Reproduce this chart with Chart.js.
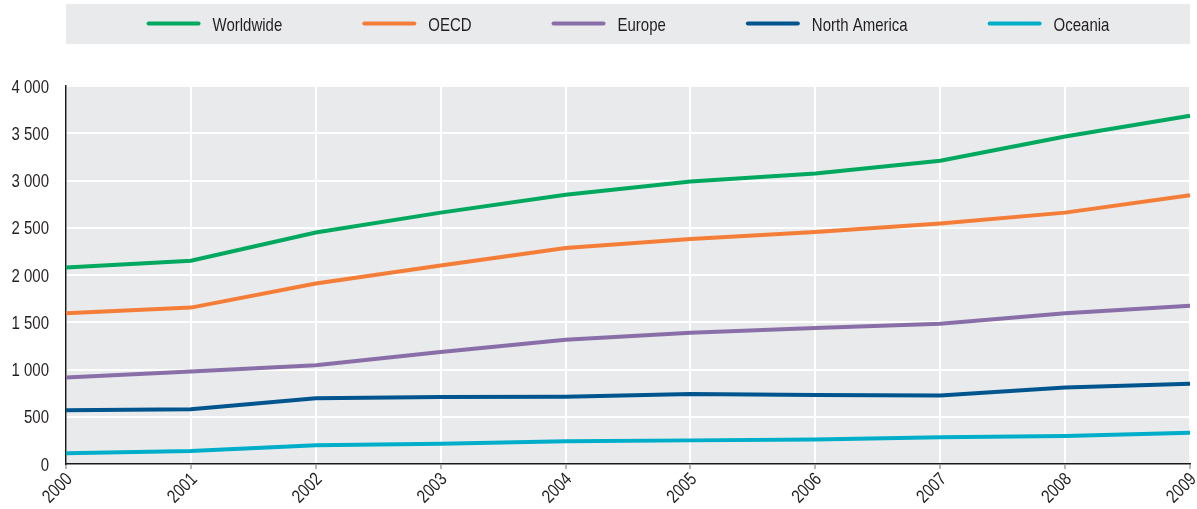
<!DOCTYPE html>
<html>
<head>
<meta charset="utf-8">
<script src="https://cdn.jsdelivr.net/npm/chart.js@4/dist/chart.umd.min.js"></script>
<style>
  html, body { margin: 0; padding: 0; background: #fff; }
  #wrap { width: 1197px; height: 509px; position: relative; }
</style>
</head>
<body>
<div id="wrap"><canvas id="chart"></canvas></div>
<script>
(function () {

    "use strict";

    var years = ['2000', '2001', '2002', '2003', '2004', '2005', '2006', '2007', '2008', '2009'];

    var worldwide    = [2080, 2150, 2450, 2660, 2850, 2990, 3075, 3210, 3465, 3685];
    var oecd         = [1595, 1655, 1910, 2100, 2285, 2380, 2455, 2545, 2660, 2845];
    var europe       = [915, 980, 1045, 1185, 1315, 1390, 1440, 1485, 1595, 1675];
    var northAmerica = [570, 580, 695, 710, 712, 740, 730, 726, 810, 850];
    var oceania      = [113, 138, 198, 215, 240, 250, 260, 282, 296, 331];

    var seriesNames  = ['Worldwide', 'OECD', 'Europe', 'North America', 'Oceania'];
    var seriesColors = ['#00A95F', '#F47D38', '#8A6EA8', '#00558F', '#00AEC9'];

    var yTicks = [0, 500, 1000, 1500, 2000, 2500, 3000, 3500, 4000];

    // no narrow face installed, so squeeze a regular one
    var FONT = '18.5px "Liberation Sans", Arial, sans-serif';
    var SQUEEZE = 0.81;
    var TEXT = '#231F20';
    var CAP_MID = 6.6;

    function fmt(v) {
        return String(v).replace(/\B(?=(\d{3})+(?!\d))/g, ' ');
    }

    function narrowText(ctx, text, x, y, align, angle) {
        ctx.save();
        ctx.translate(x, y);
        if (angle) ctx.rotate(angle);
        ctx.scale(SQUEEZE, 1);
        ctx.font = FONT;
        ctx.fillStyle = TEXT;
        ctx.textAlign = align;
        ctx.textBaseline = 'alphabetic';
        ctx.fillText(text, 0, CAP_MID);
        ctx.restore();
    }

    // grey plot background
    var plotBg = {
        id: 'plotBg',
        beforeDraw: function (chart) {
            var a = chart.chartArea, ctx = chart.ctx;
            ctx.save();
            ctx.fillStyle = '#E9EAEC';
            ctx.fillRect(a.left, a.top, a.right - a.left, a.bottom - a.top);
            ctx.restore();
        }
    };

    // tick labels in a condensed look
    var axisLabels = {
        id: 'axisLabels',
        afterDraw: function (chart) {
            var a = chart.chartArea, ctx = chart.ctx;
            var xs = chart.scales.x, ys = chart.scales.y;
            ys.ticks.forEach(function (t) {
                narrowText(ctx, fmt(t.value), a.left - 17, ys.getPixelForValue(t.value), 'right');
            });
            chart.data.labels.forEach(function (lab, i) {
                narrowText(ctx, lab, xs.getPixelForValue(i) + 2.5, a.bottom + 11.5, 'right', -Math.PI / 4);
            });
        }
    };

    // legend inside a grey band across the top
    var bandLegend = {
        id: 'bandLegend',
        afterDraw: function (chart) {
            var a = chart.chartArea, ctx = chart.ctx;
            var top = 4, h = 40, lineW = 54, gap = 12, sep = 80;
            ctx.save();
            ctx.fillStyle = '#E9EAEC';
            ctx.fillRect(a.left, top, a.right - a.left, h);
            ctx.font = FONT;
            var sets = chart.data.datasets;
            var widths = sets.map(function (d) { return lineW + gap + ctx.measureText(d.label).width * SQUEEZE; });
            var total = widths.reduce(function (s, w) { return s + w; }, 0) + sep * (sets.length - 1);
            var x = (a.left + a.right) / 2 - total / 2;
            var cy = 23.5;
            sets.forEach(function (d, i) {
                ctx.strokeStyle = d.borderColor;
                ctx.lineWidth = 4;
                ctx.lineCap = 'round';
                ctx.beginPath();
                ctx.moveTo(x + 2, cy);
                ctx.lineTo(x + lineW - 2, cy);
                ctx.stroke();
                narrowText(ctx, d.label, x + lineW + gap, cy + 0.5, 'left');
                x += widths[i] + sep;
            });
            ctx.restore();
        }
    };

    var seriesData = [worldwide, oecd, europe, northAmerica, oceania];

    var datasets = seriesNames.map(function (name, i) {
        return {
            label: name,
            data: seriesData[i],
            borderColor: seriesColors[i],
            backgroundColor: seriesColors[i],
            borderWidth: 4,
            pointRadius: 0,
            tension: 0,
            fill: false
        };
    });

    var ctx = document.getElementById('chart').getContext('2d');

    new Chart(ctx, {
        type: 'line',
        data: { labels: years, datasets: datasets },
        plugins: [plotBg, axisLabels, bandLegend],
        options: {
            responsive: true,
            maintainAspectRatio: false,
            animation: false,
            devicePixelRatio: 1,
            layout: { padding: { top: 86, right: 7, left: 0, bottom: 0 } },
            plugins: {
                legend: { display: false },
                tooltip: { enabled: false }
            },
            scales: {
                x: {
                    offset: false,
                    grid: { color: '#FFFFFF', lineWidth: 2, tickLength: 5, tickColor: '#A0A0A0', tickWidth: 1.5 },
                    border: { color: '#1A1A1A', width: 1.5 },
                    ticks: { display: false, autoSkip: false },
                    afterFit: function (scale) {
                        scale.height = 45;
                        scale.paddingRight = 0;
                        scale.paddingLeft = 0;
                    }
                },
                y: {
                    min: 0,
                    max: 4000,
                    afterBuildTicks: function (scale) {
                        scale.ticks = yTicks.map(function (v) { return { value: v }; });
                    },
                    grid: { color: '#FFFFFF', lineWidth: 2, drawTicks: false },
                    border: { color: '#1A1A1A', width: 1.5 },
                    ticks: { display: false },
                    afterFit: function (scale) {
                        scale.width = 66;
                        scale.paddingTop = 0;
                        scale.paddingBottom = 0;
                    }
                }
            }
        }
    });

})();
</script>
</body>
</html>
